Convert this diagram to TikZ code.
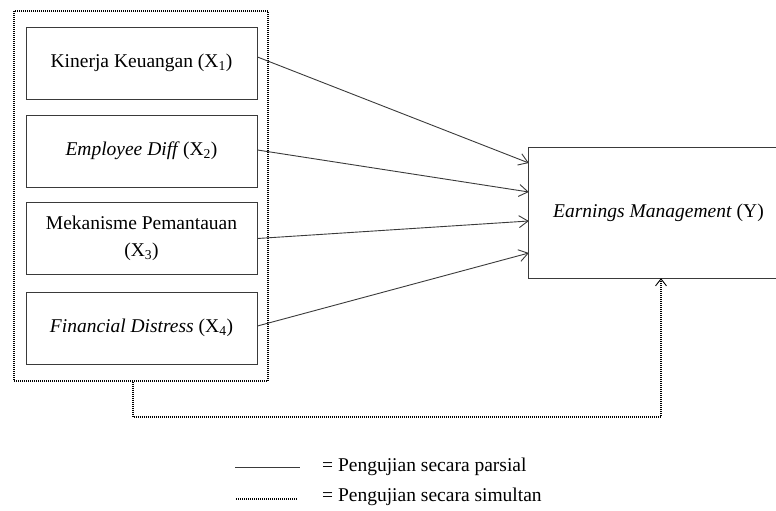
\documentclass[tikz,border=0pt]{standalone}
\usepackage{fontspec}
\setmainfont{Liberation Serif}
\usetikzlibrary{arrows.meta}
\definecolor{ln}{HTML}{3A3A3A}
\tikzset{
  varbox/.style={draw=ln, line width=0.9pt, minimum width=231pt, minimum height=72pt, inner sep=0pt, align=center, font=\fontsize{19.5}{27}\selectfont},
  grpbox/.style={draw=black, line width=1.4pt, dash pattern=on 1pt off 1pt, minimum width=254pt, minimum height=370pt, inner sep=0pt},
  partial/.style={draw=ln, line width=0.9pt, -{Straight Barb[length=9pt,width=12pt,line width=0.9pt]}},
  simul/.style={draw=black, line width=1.4pt, dash pattern=on 1pt off 1pt},
  legtext/.style={anchor=west, inner sep=0pt, font=\fontsize{19.5}{23}\selectfont}
}
\begin{document}
\begin{tikzpicture}[x=1pt,y=-1pt]
\useasboundingbox (0,0) rectangle (776,511);
\node[grpbox] (grp) at (141,196) {};
\node[varbox] (b1) at (141.5,63) {Kinerja Keuangan (X\textsubscript{1})};
\node[varbox] (b2) at (141.5,151) {\textit{Employee Diff}\,(X\textsubscript{2})};
\node[varbox] (b3) at (141.5,238.5) {Mekanisme Pemantauan\\(X\textsubscript{3})};
\node[varbox] (b4) at (141.5,328) {\textit{Financial Distress} (X\textsubscript{4})};
\node[inner sep=0pt, minimum width=247pt, minimum height=130pt, font=\fontsize{19.5}{23}\selectfont] (Y) at (652.5,213) {\hspace*{12pt}\textit{Earnings Management} (Y)};
\draw[ln, line width=0.9pt] (Y.north east) -- (Y.north west) -- (Y.south west) -- (Y.south east);
\draw[partial] ([yshift=6pt]b1.east) -- ([yshift=50pt]Y.west);
\draw[partial] ([yshift=1pt]b2.east) -- ([yshift=21pt]Y.west);
\draw[partial] (b3.east) -- ([yshift=-8pt]Y.west);
\draw[partial] ([yshift=2pt]b4.east) -- ([yshift=-40pt]Y.west);
\coordinate (corner) at (133,417);
\draw[simul, -{Straight Barb[length=7pt,width=11pt,line width=0.9pt]}] ([xshift=-8pt]grp.south) |- ([xshift=8.5pt]corner -| Y.south) -- ([xshift=8.5pt]Y.south);
\coordinate (l1a) at (235,467);
\coordinate (l1b) at (300,467);
\coordinate (l2a) at (236,499);
\coordinate (l2b) at (297,499);
\draw[ln, line width=0.9pt] (l1a) -- (l1b);
\draw[simul, line width=1.2pt] (l2a) -- (l2b);
\node[legtext] (t1) at (322,467) {= Pengujian secara parsial};
\node[legtext] (t2) at (322,497) {= Pengujian secara simultan};
\end{tikzpicture}
\end{document}
